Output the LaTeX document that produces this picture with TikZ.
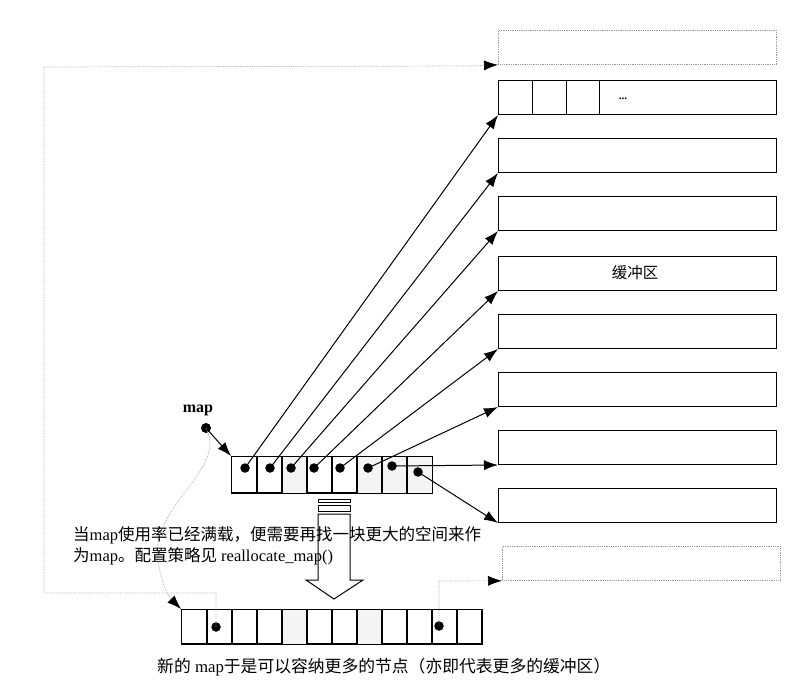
\documentclass[tikz,border=0pt]{standalone}
\usepackage{fontspec}
\setmainfont{Liberation Serif}
\newfontfamily\cjk{Noto Sans CJK SC}
\usetikzlibrary{arrows.meta}
\tikzset{
  buf/.style={draw, line width=1pt, minimum width=278pt, minimum height=34pt, inner sep=0pt, anchor=north west},
  dbuf/.style={draw=gray!80, densely dotted, line width=0.8pt, minimum width=278pt, minimum height=34pt, inner sep=0pt, anchor=north west},
  cell/.style={draw, line width=1pt, minimum width=25pt, minimum height=36pt, inner sep=0pt, anchor=north west},
  ncell/.style={draw, line width=1pt, minimum width=25pt, minimum height=34pt, inner sep=0pt, anchor=north west},
  pdot/.style={circle, fill=black, inner sep=0pt, minimum size=9.5pt},
  ptr/.style={line width=1pt, -{Latex[length=14pt,width=10pt]}},
  dptr/.style={gray!75, densely dotted, line width=0.7pt, -{Latex[length=14pt,width=10pt,fill=black,color=black]}},
  txt/.style={inner sep=0pt, anchor=base west, font=\fontsize{16.5}{20}\selectfont}
}
\begin{document}
\begin{tikzpicture}[x=1pt,y=-1pt]
\useasboundingbox (0,0) rectangle (809,693);
% right buffers
\node[dbuf] (b0) at (498,30) {};
\node[buf] (b1) at (498,80) {};
\node[buf] (b2) at (498,138) {};
\node[buf] (b3) at (498,196) {};
\node[buf] (b4) at (498,256) {};
\node[buf] (b5) at (498,314) {};
\node[buf] (b6) at (498,372) {};
\node[buf] (b7) at (498,430) {};
\node[buf] (b8) at (498,488) {};
\node[dbuf] (b9) at (502,546) {};
% cells in b1
\draw[line width=1pt] (532,80) -- (532,114) (566,80) -- (566,114) (599,80) -- (599,114);
\node[font=\bfseries\fontsize{11}{11}\selectfont, inner sep=0pt] (dots) at (623,99) {...};
\node[inner sep=0pt, font=\cjk\fontsize{15.5}{16}\selectfont] (lbl) at (635,273) {缓冲区};
% map array
\foreach \i in {1,...,8} {
  \pgfmathsetmacro{\xx}{231+25*(\i-1)}
  \node[cell] (m\i) at (\xx,456) {};
}
\foreach \i in {3,6,7,8} { \fill[gray!9] ([shift={(0.5pt,0.5pt)}]m\i.south west) rectangle ([shift={(-0.5pt,-0.5pt)}]m\i.north east); }
\foreach \i in {1,...,8} { \draw[line width=1pt] (m\i.south west) rectangle (m\i.north east); }
\node[pdot] (d1) at (245,468) {};
\node[pdot] (d2) at (270,468) {};
\node[pdot] (d3) at (291,468) {};
\node[pdot] (d4) at (314,468) {};
\node[pdot] (d5) at (340,468) {};
\node[pdot] (d6) at (368,468) {};
\node[pdot] (d7) at (392,466) {};
\node[pdot] (d8) at (418,472) {};
\draw[ptr] (d1.center) -- (b1.south west);
\draw[ptr] (d2.center) -- (b2.south west);
\draw[ptr] (d3.center) -- (b3.south west);
\draw[ptr] (d4.center) -- (b4.south west);
\draw[ptr] (d5.center) -- (b5.south west);
\draw[ptr] (d6.center) -- (b6.south west);
\draw[ptr] (d7.center) -- (b7.south west);
\draw[ptr] (d8.center) -- (b8.south west);
% map label
\node[inner sep=0pt, font=\bfseries\fontsize{16}{16}\selectfont] (maplbl) at (198,410) {map};
\node[pdot, minimum size=10pt] (mapdot) at (206,428) {};
\draw[ptr] (mapdot.center) -- (m1.north west);
% new array
\foreach \i in {1,...,12} {
  \pgfmathsetmacro{\xx}{181+25*(\i-1)}
  \node[ncell] (n\i) at (\xx,609) {};
}
\foreach \i in {5,8} { \fill[gray!9] ([shift={(0.5pt,0.5pt)}]n\i.south west) rectangle ([shift={(-0.5pt,-0.5pt)}]n\i.north east); }
\foreach \i in {1,...,12} { \draw[line width=1pt] (n\i.south west) rectangle (n\i.north east); }
\node[pdot] (e2) at (216,627) {};
\node[pdot] (e11) at (439,626) {};
% dotted links
\coordinate (c1) at (216,593);
\coordinate (c2) at (44,593);
\coordinate (c3) at (44,67);
\coordinate (c5) at (470,66);
\draw[densely dotted, gray!70, line width=0.7pt] (e2.center) -- (c1) -- (c2) -- (c3) -- (c5);
\draw[dptr] (c5) -- (b0.south west);
\coordinate (c4) at (439,581);
\draw[dptr] (e11.center) -- (c4) -- (b9.south west);
\draw[dptr] (mapdot.center) .. controls (228,470) and (150,505) .. (158,560) .. controls (162,590) and (172,600) .. (n1.north west);
% big hollow arrow
\draw[line width=1pt, fill=white] (318,499) rectangle (350,502);
\draw[line width=1pt, fill=white] (318,505) rectangle (350,511);
\draw[line width=1pt] (318,514) -- (318,580) -- (306,580) -- (334,599) -- (363,580) -- (350,580) -- (350,514) -- cycle;
% texts
\node[txt] (t1) at (73,540) {{\cjk 当}map{\cjk 使用率已经满载，便需要再找一块更大的空间来作}};
\node[txt] (t2) at (73,561) {{\cjk 为}map{\cjk 。配置策略见} reallocate\_map()};
\node[txt, font=\fontsize{16.8}{20}\selectfont] (t3) at (157,672) {{\cjk 新的} map{\cjk 于是可以容纳更多的节点（亦即代表更多的缓冲区）}};
\end{tikzpicture}
\end{document}
